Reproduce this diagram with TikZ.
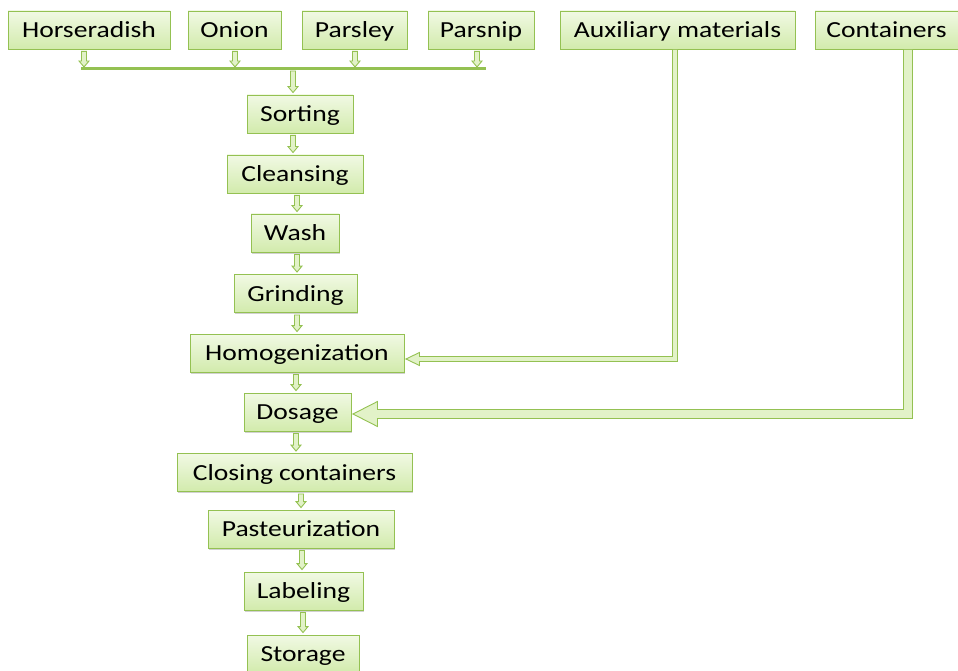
\documentclass[tikz,border=0pt]{standalone}
\usepackage{fontspec}
\setmainfont{Carlito}[FakeStretch=1.2]
\usetikzlibrary{calc,shadows}
\definecolor{gline}{HTML}{94C152}
\definecolor{gtop}{HTML}{F1F9E4}
\definecolor{gbot}{HTML}{D2EBAC}
\definecolor{gfill}{HTML}{E2F2C8}
\tikzset{
  box/.style={draw=gline, line width=0.9pt, top color=gtop, bottom color=gbot,
    drop shadow={shadow xshift=1pt, shadow yshift=-1.5pt, opacity=0.3, fill=black!60},
    minimum height=38pt, inner sep=0pt, text height=18pt, text depth=3pt,
    font=\fontsize{23}{26}\selectfont},
  blk/.style={draw=gline, fill=gfill, line width=0.9pt, line join=miter},
  busline/.style={draw=gline, line width=3pt},
}
\newcommand\varrow[3]{\path[blk] let \p1=#2, \p2=#3 in
  (#1pt-2.5pt,\y1-2pt) -- (#1pt-2.5pt,\y2+8pt) -- (#1pt-5pt,\y2+8pt) -- (#1pt,\y2+2pt)
  -- (#1pt+5pt,\y2+8pt) -- (#1pt+2.5pt,\y2+8pt) -- (#1pt+2.5pt,\y1-2pt) -- cycle;}
\begin{document}
\begin{tikzpicture}[x=1pt,y=-1pt]
\useasboundingbox (0,0) rectangle (958,671);
% top row
\node[box, minimum width=162pt] (hor) at (89,30) {Horseradish};
\node[box, minimum width=93pt]  (oni) at (234.5,30) {Onion};
\node[box, minimum width=105pt] (par) at (354.5,30) {Parsley};
\node[box, minimum width=106pt] (psn) at (481,30) {Parsnip};
\node[box, minimum width=235pt] (aux) at (677.5,30) {Auxiliary materials};
\node[box, minimum width=143pt] (con) at (886.5,30) {Containers};
% process column
\node[box, minimum width=106pt] (sort) at (300,114) {Sorting};
\node[box, minimum width=136pt] (cle)  at (295,174) {Cleansing};
\node[box, minimum width=88pt]  (wash) at (295,233) {Wash};
\node[box, minimum width=123pt] (gri)  at (295.5,293.5) {Grinding};
\node[box, minimum width=214pt] (hom)  at (297,353) {Homogenization};
\node[box, minimum width=107pt] (dos)  at (297.5,412) {Dosage};
\node[box, minimum width=235pt] (clo)  at (294.5,472.5) {Closing containers};
\node[box, minimum width=186pt] (pas)  at (301,529) {Pasteurization};
\node[box, minimum width=119pt] (lab)  at (303.5,591) {Labeling};
\node[box, minimum width=112pt] (sto)  at (303,654) {Storage};
% collecting bus
\coordinate (busL) at (81,69);
\coordinate (busR) at (486,69);
\draw[busline] (busL) -- (busR);
\varrow{84}{(hor.south)}{(busL)}
\varrow{235}{(oni.south)}{(busL)}
\varrow{355}{(par.south)}{(busL)}
\varrow{477}{(psn.south)}{(busL)}
\varrow{293}{(busL)}{(sort.north)}
% process arrows
\varrow{293}{(sort.south)}{(cle.north)}
\varrow{297}{(cle.south)}{(wash.north)}
\varrow{297}{(wash.south)}{(gri.north)}
\varrow{297}{(gri.south)}{(hom.north)}
\varrow{296}{(hom.south)}{(dos.north)}
\varrow{296}{(dos.south)}{(clo.north)}
\varrow{301}{(clo.south)}{(pas.north)}
\varrow{302}{(pas.south)}{(lab.north)}
\varrow{303}{(lab.south)}{(sto.north)}
% auxiliary materials -> homogenization
\path[blk] let \p1=(aux.south), \p2=(hom.east) in
  (\x1-5pt,\y1-0.5pt) -- (\x1-5pt,\y2-3.5pt) -- (\x2+15pt,\y2-3.5pt) -- (\x2+15pt,\y2+0.5pt)
  -- (\x2+1.5pt,\y2-6pt) -- (\x2+15pt,\y2-12.5pt) -- (\x2+15pt,\y2-8.5pt) -- (\x1,\y2-8.5pt)
  -- (\x1,\y1-0.5pt);
% containers -> dosage
\path[blk] let \p1=(con.south), \p2=(dos.east) in
  (\x1+17pt,\y1-0.5pt) -- (\x1+17pt,\y2+2.5pt) -- (\x2+26pt,\y2+2.5pt) -- (\x2+26pt,\y2+10.5pt)
  -- (\x2+1.5pt,\y2-2pt) -- (\x2+26pt,\y2-14.5pt) -- (\x2+26pt,\y2-6.5pt) -- (\x1+26pt,\y2-6.5pt)
  -- (\x1+26pt,\y1-0.5pt);
\end{tikzpicture}
\end{document}
